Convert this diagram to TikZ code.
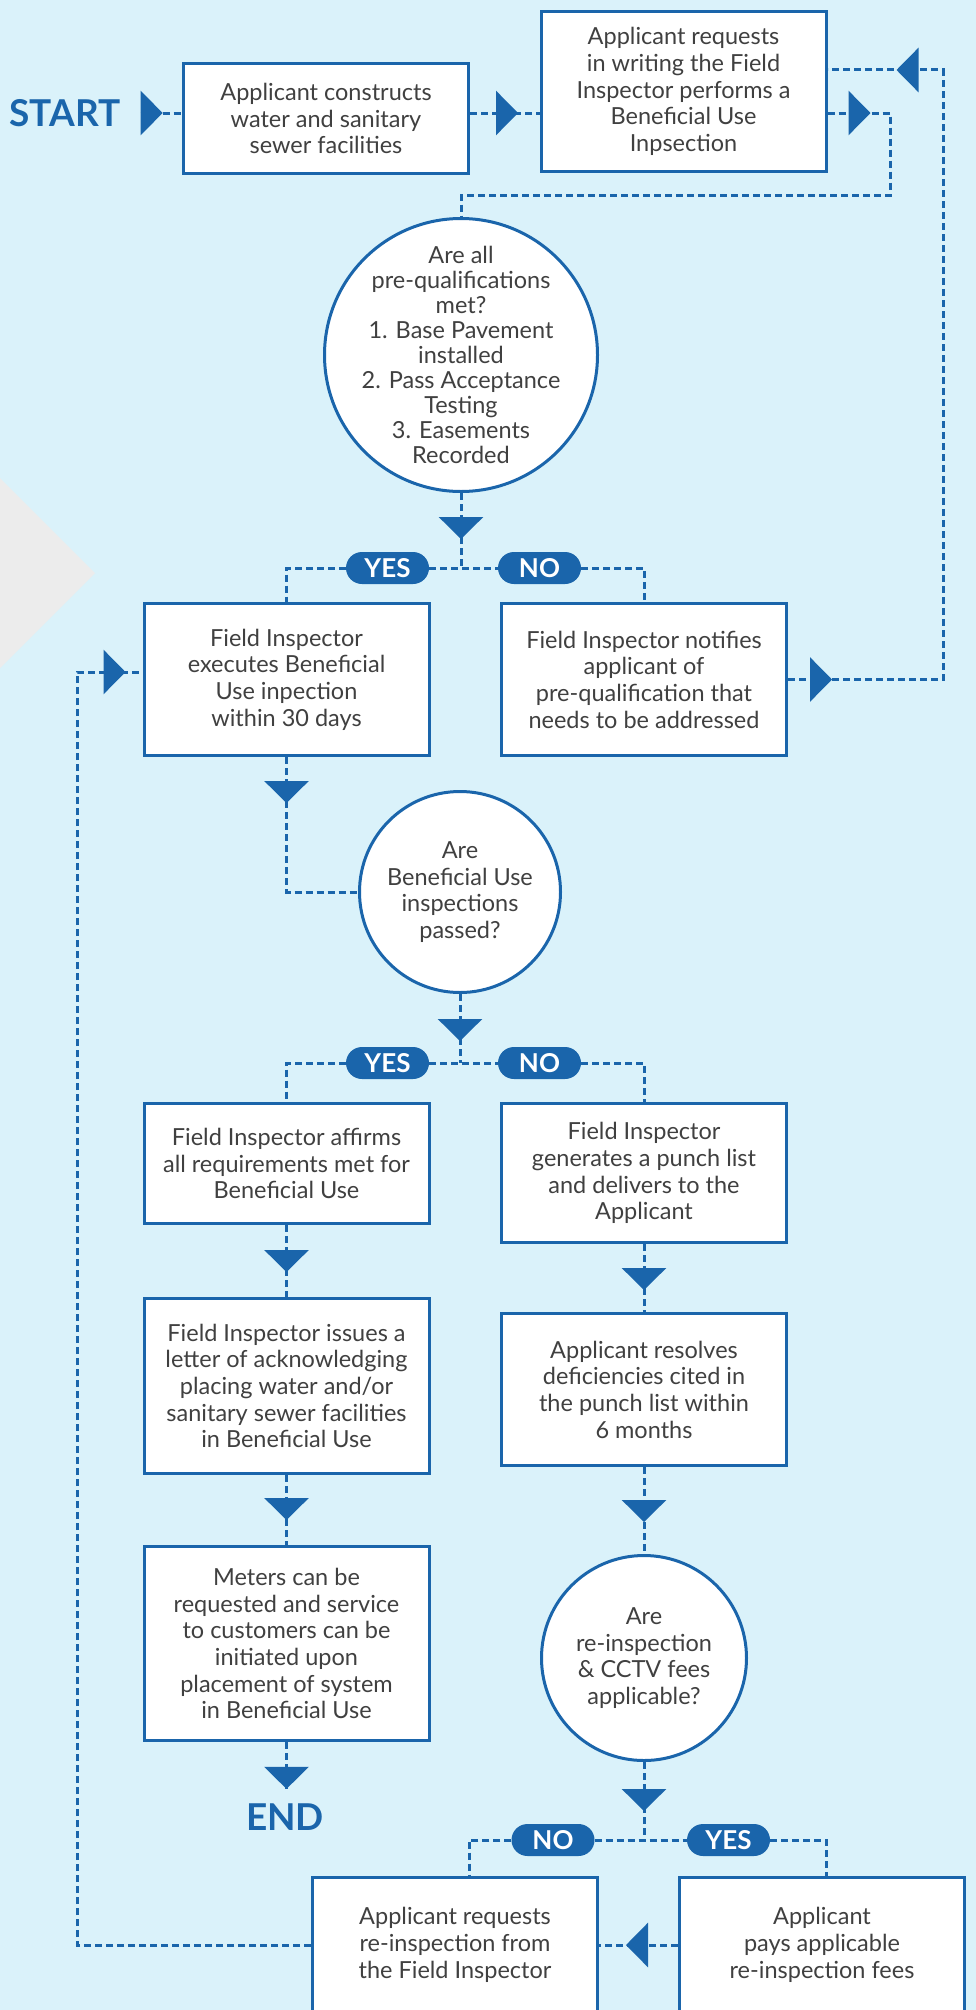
\documentclass[tikz,border=0pt]{standalone}
\usepackage{fontspec}
\setmainfont{Lato}
\usepackage{tikz}
\usetikzlibrary{arrows.meta}
\usetikzlibrary{shapes.misc}
\usetikzlibrary{decorations.markings}

\definecolor{bgblue}{RGB}{218,242,250}
\definecolor{flowblue}{RGB}{26,101,171}
\definecolor{txtgrey}{RGB}{64,64,64}
\definecolor{wedgegrey}{RGB}{236,236,236}

\tikzset{
	flow/.style={draw=flowblue, line width=3pt, dash pattern=on 7pt off 4pt},
	arrowat/.style={postaction={decorate, decoration={markings, mark=at position #1 with {\arrow{Triangle[length=22pt, width=44pt]}}}}},
	box/.style={rectangle, draw=flowblue, line width=3pt, fill=white, minimum width=285pt, inner sep=0pt, align=center, text=txtgrey, font=\fontsize{23.5}{26.7}\selectfont},
	query/.style={circle, draw=flowblue, line width=3pt, fill=white, inner sep=0pt},
	querytext/.style={align=center, text=txtgrey, inner sep=0pt, font=\fontsize{23.5}{26.7}\selectfont},
	pill/.style={rounded rectangle, fill=flowblue, text=white, minimum width=83pt, minimum height=32pt, inner sep=0pt, font=\fontsize{26}{26}\selectfont\bfseries},
	bigword/.style={text=flowblue, inner sep=0pt, font=\fontsize{37}{37}\selectfont\bfseries}
}

\begin{document}
\begin{tikzpicture}[x=1pt, y=-1pt]
		\useasboundingbox (0,0) rectangle (976,2010);
		\clip (0,0) rectangle (976,2010);
		\fill[bgblue] (0,0) rectangle (976,2010);
		\fill[wedgegrey] (0,478) -- (95,573) -- (0,668) -- cycle;

		\node[bigword] (start) at (65,113) {START};
		\node[box, minimum height=110pt] (build) at (326,118.5) {Applicant constructs\\water and sanitary\\sewer facilities};
		\node[box, minimum height=160pt] (request) at (683.5,91.5) {Applicant requests\\in writing the Field\\Inspector performs a\\Beneficial Use\\Inpsection};

		\node[query, minimum size=273pt] (prequal) at (461,355) {};
		\node[querytext, font=\fontsize{23.5}{24.9}\selectfont] (prequaltext) at (prequal) {Are all\\pre-qualifications\\met?\\1. Base Pavement\\installed\\2. Pass Acceptance\\Testing\\3. Easements\\Recorded};
		\node[pill] (yes1) at (387.5,568) {YES};
		\node[pill] (no1) at (539.5,568) {NO};

		\node[box, minimum height=152pt] (execute) at (286.5,679.5) {Field Inspector\\executes Beneficial\\Use inpection\\within 30 days};
		\node[box, minimum height=152pt] (notify) at (644,679.5) {Field Inspector notifies\\applicant of\\pre-qualification that\\needs to be addressed};

		\node[query, minimum size=201pt] (passed) at (460,892) {};
		\node[querytext] (passedtext) at (passed) {Are\\Beneficial Use\\inspections\\passed?};
		\node[pill] (yes2) at (387.5,1063) {YES};
		\node[pill] (no2) at (539.5,1063) {NO};

		\node[box, minimum height=120pt] (affirm) at (286.5,1163.5) {Field Inspector affirms\\all requirements met for\\Beneficial Use};
		\node[box, minimum height=139pt] (punch) at (644,1173) {Field Inspector\\generates a punch list\\and delivers to the\\Applicant};
		\node[box, minimum height=175pt] (letter) at (286.5,1386) {Field Inspector issues a\\letter of acknowledging\\placing water and/or\\sanitary sewer facilities\\in Beneficial Use};
		\node[box, minimum height=152pt] (resolve) at (644,1389.5) {Applicant resolves\\deficiencies cited in\\the punch list within\\6 months};
		\node[box, minimum height=194pt] (meters) at (286.5,1643.5) {Meters can be\\requested and service\\to customers can be\\initiated upon\\placement of system\\in Beneficial Use};
		\node[bigword] (finish) at (285,1817) {END};

		\node[query, minimum size=205pt] (fees) at (644,1658) {};
		\node[querytext] (feestext) at (fees) {Are\\re-inspection\\\& CCTV fees\\applicable?};
		\node[pill] (no3) at (553,1840) {NO};
		\node[pill] (yes3) at (728.5,1840) {YES};

		\node[box, minimum height=136pt] (reinsp) at (455,1945) {Applicant requests\\re-inspection from\\the Field Inspector};
		\node[box, minimum height=136pt] (pay) at (822,1945) {Applicant\\pays applicable\\re-inspection fees};

		\coordinate (bendtop) at (890,195);
		\coordinate (loopNE) at (943,70);
		\coordinate (loopSW) at (77,672);

		\draw[flow, arrowat=22pt] ([xshift=20pt]start.east) -- (build.west |- start);
		\draw[flow, arrowat=48pt] (build.east |- start) -- (request.west |- start);
		\draw[flow, arrowat=43pt] (request.east |- start) -| (bendtop) -| (prequal.north);

		\draw[flow, arrowat=46pt] (prequal.south) -- (prequal.south |- yes1.center);
		\draw[flow] (yes1.east) -- (no1.west);
		\draw[flow] (yes1.west) -| (execute.north);
		\draw[flow] (no1.east) -| (notify.north);
		\draw[flow, arrowat=44pt, arrowat=-69pt] (notify.east) -| (loopNE) -- (request.east |- loopNE);

		\draw[flow, arrowat=46pt] (execute.south) |- (passed.west);
		\draw[flow, arrowat=47pt] (passed.south) -- (passed.south |- yes2.center);
		\draw[flow] (yes2.east) -- (no2.west);
		\draw[flow] (yes2.west) -| (affirm.north);
		\draw[flow] (no2.east) -| (punch.north);

		\draw[flow, arrowat=47pt] (affirm.south) -- (letter.north);
		\draw[flow, arrowat=45pt] (letter.south) -- (meters.north);
		\draw[flow, arrowat=46.9pt] (meters.south) -- ++(0,47);
		\draw[flow, arrowat=46pt] (punch.south) -- (resolve.north);
		\draw[flow, arrowat=55pt] (resolve.south) -- (fees.north);

		\draw[flow, arrowat=49pt] (fees.south) -- (fees.south |- no3.center);
		\draw[flow] (no3.east) -- (yes3.west);
		\draw[flow] (no3.west) -| ([xshift=14pt]reinsp.north);
		\draw[flow] (yes3.east) -| ([xshift=4pt]pay.north);
		\draw[flow, arrowat=52pt] (pay.west) -- (reinsp.east);
		\draw[flow, arrowat=-17pt] (reinsp.west) -| (loopSW) -- (execute.west |- loopSW);
\end{tikzpicture}
\end{document}
